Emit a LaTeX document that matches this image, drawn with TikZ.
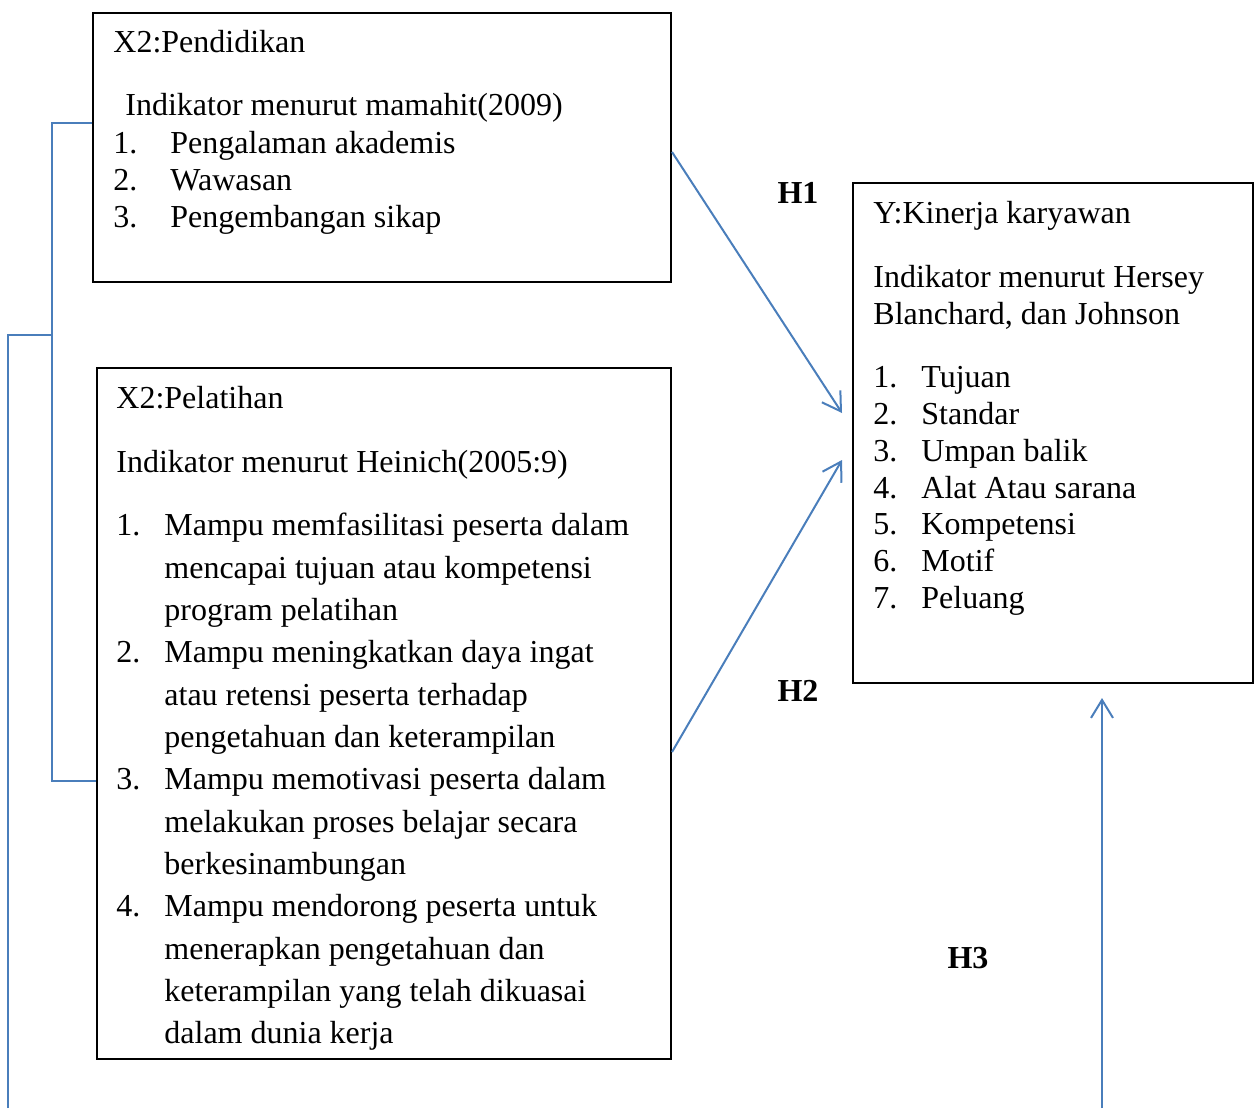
\documentclass[tikz,border=0pt]{standalone}
\usepackage{fontspec}
\setmainfont{Liberation Serif}
\usetikzlibrary{arrows.meta}
\definecolor{conblue}{HTML}{4A7EBB}
\tikzset{
  boxframe/.style={draw=black, line width=1pt, fill=none, inner sep=0pt, anchor=north west},
  txt/.style={anchor=base west, inner sep=0pt, font=\fontsize{16}{19}\selectfont},
  hlab/.style={anchor=center, inner sep=0pt, font=\fontsize{16}{19}\selectfont\bfseries},
  bline/.style={draw=conblue, line width=1pt},
  barrow/.style={bline, -{Straight Barb[length=9pt, width=11pt, line width=1pt]}}
}
\begin{document}
\begin{tikzpicture}[x=0.5pt, y=-0.5pt]
\useasboundingbox (0,0) rectangle (1257,1108);
% boxes
\node[boxframe, minimum width=289pt, minimum height=134.5pt] (pend) at (92,12) {};
\node[boxframe, minimum width=287pt, minimum height=345.5pt] (pel) at (96,367) {};
\node[boxframe, minimum width=200pt, minimum height=250pt] (kin) at (852,182) {};
% box 1 text
\node[txt] (a0) at (113,52) {X2:Pendidikan};
\node[txt] (a1) at (125,115) {Indikator menurut mamahit(2009)};
\node[txt] (a2n) at (113,153) {1.};
\node[txt] (a2) at (170,153) {Pengalaman akademis};
\node[txt] (a3n) at (113,190) {2.};
\node[txt] (a3) at (170,190) {Wawasan};
\node[txt] (a4n) at (113,227) {3.};
\node[txt] (a4) at (170,227) {Pengembangan sikap};
% box 2 text
\node[txt] (b0) at (116,408) {X2:Pelatihan};
\node[txt] (b1) at (116,472) {Indikator menurut Heinich(2005:9)};
\node[txt] (b2n) at (116,535) {1.};
\node[txt] (b2) at (164,535) {Mampu memfasilitasi peserta dalam};
\node[txt] (b3) at (164,578) {mencapai tujuan atau kompetensi};
\node[txt] (b4) at (164,620) {program pelatihan};
\node[txt] (b5n) at (116,662) {2.};
\node[txt] (b5) at (164,662) {Mampu meningkatkan daya ingat};
\node[txt] (b6) at (164,705) {atau retensi peserta terhadap};
\node[txt] (b7) at (164,747) {pengetahuan dan keterampilan};
\node[txt] (b8n) at (116,789) {3.};
\node[txt] (b8) at (164,789) {Mampu memotivasi peserta dalam};
\node[txt] (b9) at (164,832) {melakukan proses belajar secara};
\node[txt] (b10) at (164,874) {berkesinambungan};
\node[txt] (b11n) at (116,916) {4.};
\node[txt] (b11) at (164,916) {Mampu mendorong peserta untuk};
\node[txt] (b12) at (164,959) {menerapkan pengetahuan dan};
\node[txt] (b13) at (164,1001) {keterampilan yang telah dikuasai};
\node[txt] (b14) at (164,1043) {dalam dunia kerja};
% box Y text
\node[txt] (c0) at (873,223) {Y:Kinerja karyawan};
\node[txt] (c1) at (873,287) {Indikator menurut Hersey};
\node[txt] (c2) at (873,324) {Blanchard, dan Johnson};
\node[txt] (c3n) at (873,387) {1.};
\node[txt] (c3) at (921,387) {Tujuan};
\node[txt] (c4n) at (873,424) {2.};
\node[txt] (c4) at (921,424) {Standar};
\node[txt] (c5n) at (873,461) {3.};
\node[txt] (c5) at (921,461) {Umpan balik};
\node[txt] (c6n) at (873,498) {4.};
\node[txt] (c6) at (921,498) {Alat Atau sarana};
\node[txt] (c7n) at (873,534) {5.};
\node[txt] (c7) at (921,534) {Kompetensi};
\node[txt] (c8n) at (873,571) {6.};
\node[txt] (c8) at (921,571) {Motif};
\node[txt] (c9n) at (873,608) {7.};
\node[txt] (c9) at (921,608) {Peluang};
% hypothesis labels
\node[hlab] (h1) at (798,193) {H1};
\node[hlab] (h2) at (798,691) {H2};
\node[hlab] (h3) at (968,958) {H3};
% connector coordinates
\coordinate (h1s) at (670,152);
\coordinate (h1e) at (842,413);
\coordinate (h2s) at (670,752);
\coordinate (h2e) at (842,460);
\coordinate (h3s) at (1102,1108);
\coordinate (h3e) at (1102,698);
\coordinate (br1) at (52,123);
\coordinate (br2) at (52,781);
\coordinate (br3) at (52,335);
\coordinate (br4) at (8,1108);
% arrows
\draw[barrow] (pend.east |- h1s) -- (h1e);
\draw[barrow] (pel.east |- h2s) -- (h2e);
\draw[barrow] (h3s) -- (h3e);
% bracket
\draw[bline] (pend.west |- br1) -- (br1) -- (br2) -- (pel.west |- br2);
\draw[bline] (br4) -- (br4 |- br3) -- (br3);
\end{tikzpicture}
\end{document}
